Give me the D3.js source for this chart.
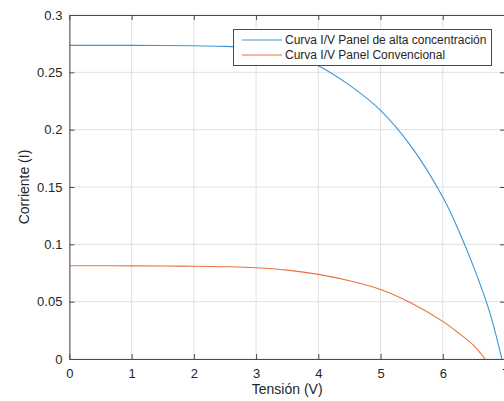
<!DOCTYPE html>
<html>
<head>
<meta charset="utf-8">
<script src="https://cdn.jsdelivr.net/npm/d3@7"></script>
<style>
	body { margin: 0; background: #fff; }
	svg text { font-family: 'Liberation Sans', Arial, sans-serif; fill: #262626; }
</style>
</head>
<body>
<svg id="chart" width="504" height="401"></svg>
<script>
	// panel de alta concentracion
	var voltsHigh = [0, 0.5, 1, 1.5, 2, 2.5, 3, 3.5, 4, 4.5, 5, 5.5, 6, 6.25, 6.5, 6.75, 6.95];
	var currentHigh = [0.2735, 0.2735, 0.2735, 0.2734, 0.2732, 0.2726, 0.2712, 0.2672, 0.2557, 0.2388, 0.2168, 0.1848, 0.1412, 0.1127, 0.0797, 0.0415, 0];
	// panel convencional
	var voltsConv = [0, 0.5, 1, 1.5, 2, 2.5, 3, 3.5, 4, 4.5, 5, 5.5, 6, 6.25, 6.5, 6.68];
	var currentConv = [0.0813, 0.0813, 0.0812, 0.0811, 0.0809, 0.0805, 0.0796, 0.0775, 0.0738, 0.0683, 0.0607, 0.0487, 0.0328, 0.0228, 0.0117, 0];

	var xTicks = [0, 1, 2, 3, 4, 5, 6, 7];
	var yTicks = [0, 0.05, 0.1, 0.15, 0.2, 0.25, 0.3];
	var seriesNames = ['Curva I/V Panel de alta concentración', 'Curva I/V Panel Convencional'];
	var colors = ['#3a95d4', '#e7733f'];

	var plotLeft = 69.4, plotRight = 505, plotTop = 15, plotBottom = 359;

	var x = d3.scaleLinear().domain([0, 7]).range([plotLeft, plotRight]);
	var y = d3.scaleLinear().domain([0, 0.3]).range([plotBottom, plotTop]);

	var svg = d3.select('#chart');

	// grid
	var grid = svg.append('g').attr('stroke', '#e0e0e0').attr('stroke-width', 1);
	xTicks.forEach(function(t){
		grid.append('line').attr('x1', x(t)).attr('x2', x(t)).attr('y1', plotTop).attr('y2', plotBottom);
	});
	yTicks.forEach(function(t){
		grid.append('line').attr('x1', plotLeft).attr('x2', plotRight).attr('y1', y(t)).attr('y2', y(t));
	});

	// lines
	var line = d3.line()
		.x(function(d){ return x(d[0]); })
		.y(function(d){ return y(d[1]); })
		.curve(d3.curveCatmullRom.alpha(0.5));

	var series = [
		d3.zip(voltsHigh, currentHigh),
		d3.zip(voltsConv, currentConv)
	];
	series.forEach(function(s, i){
		svg.append('path')
			.datum(s)
			.attr('fill', 'none')
			.attr('stroke', colors[i])
			.attr('stroke-width', 1.1)
			.attr('d', line);
	});

	// axes (box on, ticks inside)
	var axisColor = '#4a4a4a';
	var xAxis = svg.append('g').attr('transform', 'translate(0,' + plotBottom + ')')
		.call(d3.axisBottom(x).tickValues(xTicks).tickSizeInner(-5).tickSizeOuter(0).tickPadding(10).tickFormat(d3.format('d')));
	var yAxis = svg.append('g').attr('transform', 'translate(' + plotLeft + ',0)')
		.call(d3.axisLeft(y).tickValues(yTicks).tickSizeInner(-5).tickSizeOuter(0).tickPadding(7).tickFormat(function(d){ return String(+d.toFixed(2)); }));
	var xTop = svg.append('g').attr('transform', 'translate(0,' + plotTop + ')')
		.call(d3.axisTop(x).tickValues(xTicks).tickSizeInner(-5).tickSizeOuter(0).tickFormat(''));
	var yRight = svg.append('g').attr('transform', 'translate(' + plotRight + ',0)')
		.call(d3.axisRight(y).tickValues(yTicks).tickSizeInner(-5).tickSizeOuter(0).tickFormat(''));

	[xAxis, yAxis, xTop, yRight].forEach(function(a){
		a.selectAll('path').attr('stroke', axisColor);
		a.selectAll('line').attr('stroke', axisColor);
		a.selectAll('text').attr('font-size', 13).attr('font-family', "'Liberation Sans', Arial, sans-serif").attr('fill', '#262626');
	});

	// axis labels
	svg.append('text')
		.attr('x', (plotLeft + plotRight) / 2).attr('y', 394)
		.attr('text-anchor', 'middle').attr('font-size', 14)
		.text('Tensión (V)');
	svg.append('text')
		.attr('transform', 'translate(29,' + (plotTop + plotBottom) / 2 + ') rotate(-90)')
		.attr('text-anchor', 'middle').attr('font-size', 14)
		.text('Corriente (I)');

	// legend
	var legend = svg.append('g');
	legend.append('rect')
		.attr('x', 233.5).attr('y', 29.5).attr('width', 258).attr('height', 36)
		.attr('fill', '#fff').attr('stroke', axisColor).attr('stroke-width', 1);
	seriesNames.forEach(function(name, i){
		var ly = 40 + i * 15;
		legend.append('line')
			.attr('x1', 242).attr('x2', 282).attr('y1', ly).attr('y2', ly)
			.attr('stroke', colors[i]).attr('stroke-width', 1.1);
		legend.append('text')
			.attr('x', 285).attr('y', ly).attr('dy', '0.35em')
			.attr('font-size', 12)
			.text(name);
	});
</script>
</body>
</html>
